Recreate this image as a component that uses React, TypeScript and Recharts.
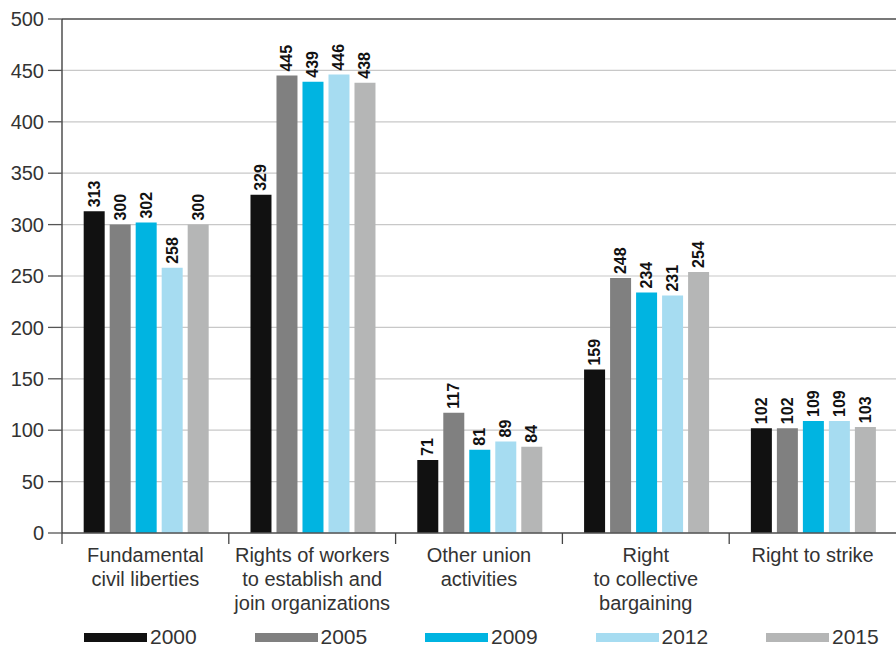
import { BarChart, Bar, XAxis, YAxis, CartesianGrid, ReferenceLine, LabelList } from "recharts";

const categories = [
  "Fundamental\ncivil liberties",
  "Rights of workers\nto establish and\njoin organizations",
  "Other union\nactivities",
  "Right\nto collective\nbargaining",
  "Right to strike",
];
const years = ["2000", "2005", "2009", "2012", "2015"];
const colors = ["#111111", "#808080", "#00b4e1", "#a6dcf1", "#b5b6b6"];
const values2000 = [313, 329, 71, 159, 102];
const values2005 = [300, 445, 117, 248, 102];
const values2009 = [302, 439, 81, 234, 109];
const values2012 = [258, 446, 89, 231, 109];
const values2015 = [300, 438, 84, 254, 103];
const yTicks = [0, 50, 100, 150, 200, 250, 300, 350, 400, 450, 500];

const seriesValues = [values2000, values2005, values2009, values2012, values2015];
const data = categories.map((name, i) => {
  const row: Record<string, string | number> = { name };
  years.forEach((y, k) => (row[y] = seriesValues[k][i]));
  return row;
});

const FONT = "'Liberation Sans', Arial, Helvetica, sans-serif";
const W = 896;
const H = 648;
const LEFT = 62;
const BAND = (W - LEFT) / categories.length;

function CategoryTick(props: any) {
  const { x, y, payload } = props;
  const lines = String(payload.value).split("\n");
  const bx = x - BAND / 2;
  return (
    <g>
      <line x1={bx} y1={y} x2={bx} y2={y + 11} stroke="#444" strokeWidth={1.3} />
      <text x={x} y={y + 29} textAnchor="middle" fontSize={20} fill="#333" fontFamily={FONT}>
        {lines.map((l, i) => (
          <tspan key={i} x={x} dy={i === 0 ? 0 : 24}>
            {l}
          </tspan>
        ))}
      </text>
    </g>
  );
}

function ValueLabel(props: any) {
  const { x, y, width, value } = props;
  const cx = x + width / 2;
  const ty = y - 4;
  return (
    <text
      x={cx}
      y={ty}
      transform={`rotate(-90 ${cx} ${ty})`}
      textAnchor="start"
      dominantBaseline="central"
      fontSize={16}
      fontWeight="bold"
      fill="#111"
      fontFamily={FONT}
    >
      {value}
    </text>
  );
}

export default function App() {
  return (
    <div style={{ position: "absolute", left: 0, top: 0, width: W, height: H, background: "#fff" }}>
      <BarChart
        width={W}
        height={H}
        data={data}
        margin={{ top: 19, right: 0, left: 0, bottom: 35 }}
        barCategoryGap="13%"
        barGap={5}
      >
        <CartesianGrid vertical={false} stroke="#c8c8c8" strokeWidth={1.2} />
        <ReferenceLine y={500} stroke="#555" strokeWidth={1.3} />
        <XAxis
          dataKey="name"
          height={80}
          interval={0}
          tickLine={false}
          tickSize={0}
          tickMargin={0}
          axisLine={{ stroke: "#555", strokeWidth: 1.3 }}
          tick={<CategoryTick />}
        />
        <YAxis
          width={LEFT}
          domain={[0, 500]}
          ticks={yTicks}
          interval={0}
          tickSize={14}
          tickMargin={4}
          tickLine={{ stroke: "#555", strokeWidth: 1.3 }}
          axisLine={{ stroke: "#333", strokeWidth: 1.3 }}
          tick={{ fontSize: 20, fill: "#333", fontFamily: FONT }}
        />
        {years.map((y, k) => (
          <Bar key={y} dataKey={y} fill={colors[k]} isAnimationActive={false}>
            <LabelList dataKey={y} content={<ValueLabel />} />
          </Bar>
        ))}
      </BarChart>
      <div style={{ position: "absolute", left: 84, top: 624, display: "flex", fontFamily: FONT }}>
        {years.map((y, k) => (
          <div key={y} style={{ width: 170.5, display: "flex", alignItems: "center" }}>
            <div style={{ width: 63, height: 9, background: colors[k], marginRight: 3 }} />
            <span style={{ fontSize: 21, color: "#333", lineHeight: "26px" }}>{y}</span>
          </div>
        ))}
      </div>
    </div>
  );
}
